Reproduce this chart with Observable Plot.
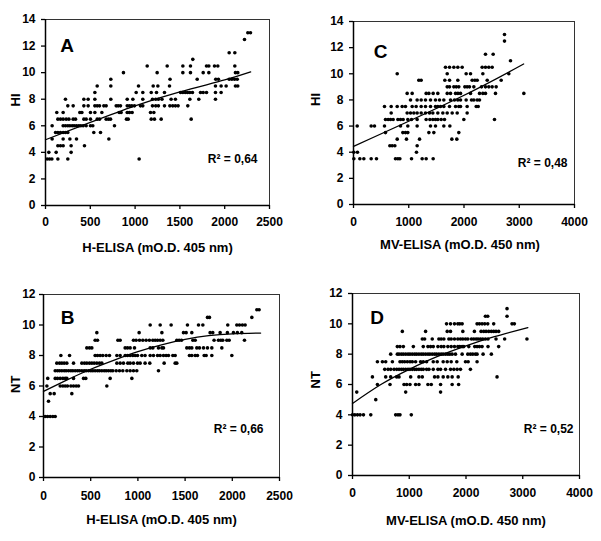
<!DOCTYPE html>
<html><head><meta charset="utf-8">
<script src="https://cdn.jsdelivr.net/npm/d3@7"></script>
<script src="https://cdn.jsdelivr.net/npm/@observablehq/plot@0.6"></script>
<style>
body{margin:0;background:#fff}
#fig{position:relative;width:601px;height:541px;font-family:'Liberation Sans',Arial,sans-serif}
#fig svg{position:absolute}
</style></head><body><div id="fig"></div>
<script>
// ---- Panel A: HI vs H-ELISA ----  rows: [HI value, H-ELISA values]
const rowsA = [
  [13, [2258, 2288]],
  [12.5, [2221]],
  [11.5, [2050, 2113]],
  [11, [1644]],
  [10.5, [1135, 1358, 1533, 1618, 1797, 1823, 1886, 1923, 2113]],
  [10, [870, 1246, 1533, 1618, 1760, 1823, 2120, 2146]],
  [9.5, [729, 1390, 1693, 1900, 1930, 2050, 2080, 2110, 2140]],
  [9, [577, 729, 1038, 1202, 1254, 1384, 1897, 1960, 2016, 2120, 2146]],
  [8.5, [551, 1012, 1086, 1180, 1239, 1328, 1507, 1533, 1560, 1585, 1610, 1640, 1730, 1760, 1797, 1897, 1960]],
  [8, [223, 428, 476, 551, 729, 912, 975, 1086, 1194, 1230, 1260, 1300, 1402, 1450, 1611, 1711, 1897]],
  [7.5, [249, 309, 428, 476, 551, 577, 603, 651, 677, 789, 811, 837, 912, 937, 963, 993, 1060, 1086, 1194, 1230, 1260, 1328, 1388, 1420, 1450, 1480, 1588]],
  [7, [126, 197, 383, 406, 502, 551, 629, 822, 844, 912, 937, 967, 1172, 1209]],
  [6.5, [138, 167, 197, 231, 261, 309, 335, 428, 454, 502, 577, 603, 677, 703, 726, 904, 923, 1180, 1216, 1291, 1626]],
  [6, [74, 197, 223, 249, 272, 298, 320, 346, 372, 394, 420, 454, 502, 528, 770]],
  [5.5, [112, 138, 167, 197, 223, 249, 539, 614]],
  [5, [74, 197, 272, 346, 707]],
  [4.5, [138, 167, 197, 286, 435]],
  [4, [37, 119, 286]],
  [3.5, [19, 45, 71, 138, 249, 1045]]
];
const fitAx = [0, 500, 1000, 1500, 2000, 2290];
const fitAy = [4.95, 6.25, 7.5, 8.55, 9.45, 10.05];

// ---- Panel C: HI vs MV-ELISA ----
const rowsC = [
  [13, [2733]],
  [12.5, [2733]],
  [11.5, [2389, 2528]],
  [11, [2842]],
  [10.5, [1665, 1738, 1816, 1888, 1967, 2329, 2389, 2449, 2510]],
  [10, [791, 1696, 2039, 2118, 2341, 2811]],
  [9.5, [1182, 1225, 1653, 1738, 1888, 2148, 2197, 2239, 2420, 2673]],
  [9, [1696, 1738, 1816, 1860, 1906, 2015, 2057, 2099, 2178, 2317, 2389, 2449, 2510, 2582]],
  [8.5, [971, 1062, 1315, 1364, 1442, 1526, 1696, 1756, 1847, 1890, 1937, 2118, 2281, 2341, 2389, 2570, 3083]],
  [8, [1032, 1152, 1225, 1303, 1394, 1484, 1557, 1635, 1756, 1828, 1888, 1937, 2039, 2136, 2178, 2239, 2281]],
  [7.5, [561, 682, 791, 881, 941, 1062, 1134, 1225, 1303, 1394, 1484, 1526, 1575, 1635, 1738, 1847, 1906, 1937, 2057, 2221, 2257]],
  [7, [682, 971, 1032, 1092, 1152, 1225, 1303, 1376, 1436, 1526, 1617, 1696, 1786, 1877, 2057]],
  [6.5, [579, 627, 670, 718, 803, 851, 899, 983, 1050, 1152, 1315, 1382, 1436, 1484, 1526, 1587, 1647, 1997, 2552]],
  [6, [67, 320, 380, 561, 851, 983, 1152, 1394, 1484, 1635, 1744]],
  [5.5, [579, 893, 941, 983, 1364, 1454, 1906]],
  [5, [791, 959, 1195, 1780, 1870]],
  [4.5, [658, 700, 748, 1152]],
  [4, [6, 72, 1140]],
  [3.5, [6, 115, 187, 320, 416, 760, 803, 839, 1050, 1243, 1315, 1442]]
];
const fitCx = [0, 1900, 3080];
const fitCy = [4.45, 8.15, 10.75];

// ---- Panel B: NT vs H-ELISA ----
const rowsB = [
  [11, [2260, 2284]],
  [10.5, [1737, 1758, 2207]],
  [10, [1130, 1236, 1352, 1525, 1642, 1688, 1952, 2048, 2076, 2107, 2136]],
  [9.5, [565, 1013, 1254, 1483, 1511, 1571, 1765, 1793, 1871, 1948, 2012, 2054, 2100]],
  [9, [547, 572, 788, 812, 953, 981, 1017, 1052, 1087, 1122, 1158, 1183, 1208, 1236, 1264, 1412, 1437, 1462, 1582, 1607, 1807, 1853, 1878, 1899, 1942, 1967, 2129]],
  [8.5, [459, 487, 512, 865, 890, 918, 964, 1130, 1158, 1218, 1254, 1271, 1518, 1546, 1571, 1624, 1652, 1695, 1737, 1783, 1889]],
  [8, [184, 276, 547, 572, 600, 628, 664, 699, 777, 812, 865, 890, 918, 946, 971, 996, 1041, 1076, 1130, 1165, 1208, 1236, 1271, 1299, 1324, 1370, 1395, 1546, 1571, 1607, 1631, 1702, 1723, 1783, 1995]],
  [7.5, [141, 170, 194, 219, 247, 318, 406, 434, 459, 487, 512, 537, 565, 593, 618, 777, 812, 847, 893, 918, 953, 996, 1024, 1076, 1126, 1278, 1395, 1412]],
  [7, [124, 148, 170, 194, 219, 240, 265, 290, 311, 336, 360, 381, 406, 431, 452, 477, 502, 523, 547, 572, 593, 618, 643, 664, 688, 713, 734, 770, 805, 840, 883, 918, 953, 988, 1218]],
  [6.5, [45, 124, 148, 177, 205, 230, 247, 318, 424, 448, 706, 936]],
  [6, [36, 177, 205, 230, 254, 290, 318, 346, 371, 671]],
  [5.5, [71, 113, 300]],
  [5, [53]],
  [4, [18, 43, 71, 99, 124]]
];
const fitBx = [0, 250, 500, 750, 1000, 1250, 1500, 1750, 2000, 2300];
const fitBy = [5.65, 6.4, 7.1, 7.7, 8.25, 8.7, 9.05, 9.3, 9.42, 9.47];

// ---- Panel D: NT vs MV-ELISA ----
const rowsD = [
  [11, [2723]],
  [10.5, [2342, 2383, 2723]],
  [10, [1657, 1727, 1797, 1856, 1890, 1932, 2195, 2236, 2283, 2330, 2383, 2488, 2811, 2852]],
  [9.5, [878, 1288, 1669, 1727, 1944, 2148, 2265, 2312, 2353, 2400, 2447, 2488, 2529, 2576]],
  [9, [1230, 1271, 1405, 1522, 1563, 1610, 1698, 1739, 1797, 1856, 1903, 1944, 1991, 2032, 2096, 2137, 2178, 2213, 2254, 2295, 2342, 2388, 2529, 2681, 3074]],
  [8.5, [790, 837, 896, 1072, 1247, 1329, 1376, 1423, 1505, 1563, 1610, 1680, 1739, 1797, 1856, 1890, 1932, 1961, 2049, 2154, 2195, 2236, 2283, 2388, 2576]],
  [8, [673, 790, 820, 861, 896, 937, 978, 1013, 1054, 1095, 1130, 1171, 1212, 1247, 1288, 1329, 1364, 1405, 1446, 1481, 1522, 1563, 1598, 1639, 1680, 1715, 1756, 1815, 1932, 2032, 2078, 2119, 2166, 2195, 2301, 2447]],
  [7.5, [439, 527, 585, 703, 837, 878, 919, 966, 1013, 1054, 1112, 1200, 1247, 1306, 1423, 1493, 1598, 1669, 1739, 1838, 1991, 2038, 2195]],
  [7, [568, 626, 673, 732, 779, 820, 861, 896, 937, 978, 1013, 1054, 1095, 1130, 1171, 1212, 1247, 1306, 1347, 1423, 1505, 1552, 1639, 1727, 1786, 1844, 1903, 2078]],
  [6.5, [351, 585, 673, 779, 820, 1025, 1171, 1230, 1446, 1505, 1598, 1680, 1756, 1862, 2547]],
  [6, [439, 661, 908, 955, 1013, 1112, 1171, 1329, 1388, 1552, 1756, 1870]],
  [5.5, [75, 937, 1552]],
  [5, [410]],
  [4, [0, 41, 88, 134, 193, 322, 761, 802, 837, 1036]]
];
const fitDx = [0, 500, 1000, 1500, 2000, 2500, 3090];
const fitDy = [4.75, 6.0, 7.0, 7.85, 8.55, 9.15, 9.75];

// ---- tick labels & texts ----
const ticksH = [0, 500, 1000, 1500, 2000, 2500];
const ticksMV = [0, 1000, 2000, 3000, 4000];
const ticksHI = [0, 2, 4, 6, 8, 10, 12, 14];
const ticksNT = [0, 2, 4, 6, 8, 10, 12];
const labelH = "H-ELISA (mO.D. 405 nm)";
const labelMV = "MV-ELISA (mO.D. 450 nm)";
const letters = ["A", "B", "C", "D"];
const r2Texts = ["R² = 0,64", "R² = 0,66", "R² = 0,48", "R² = 0,52"];

const FONT = "'Liberation Sans', Arial, Helvetica, sans-serif";
const fig = document.getElementById("fig");

function panel(cfg) {
  const pts = cfg.rows.flatMap(([y, xs]) => xs.map(x => ({x, y})));
  const fit = cfg.fitX.map((x, i) => ({x, y: cfg.fitY[i]}));
  const xMax = d3.max(cfg.xTicks), yMax = d3.max(cfg.yTicks);
  const svg = Plot.plot({
    width: cfg.w, height: cfg.h,
    marginLeft: cfg.m[0], marginRight: cfg.m[1], marginTop: cfg.m[2], marginBottom: cfg.m[3],
    x: {domain: [0, xMax]},
    y: {domain: [0, yMax]},
    style: {fontFamily: FONT, fontWeight: "bold", fontSize: "12px", background: "white", overflow: "visible", color: "black"},
    marks: [
      Plot.ruleY([yMax], {stroke: "#333", strokeWidth: 1}),
      Plot.ruleX([xMax], {stroke: "#333", strokeWidth: 1}),
      Plot.axisX({ticks: cfg.xTicks, tickSize: 4, tickPadding: cfg.xPad, tickFormat: d3.format("d"), label: null, strokeWidth: 1.3}),
      Plot.axisY({ticks: cfg.yTicks, tickSize: 4, tickPadding: cfg.yPad, tickFormat: d3.format("d"), label: null, strokeWidth: 1.3}),
      Plot.ruleX([0], {strokeWidth: 1.5}),
      Plot.ruleY([0], {strokeWidth: 1.5}),
      Plot.line(fit, {x: "x", y: "y", curve: "natural", strokeWidth: 1.3}),
      Plot.dot(pts, {x: "x", y: "y", r: 1.8, fill: "black"}),
      Plot.text([cfg.letter], {text: d => d, frameAnchor: "top-left", dx: cfg.letterPos[0], dy: cfg.letterPos[1], fontSize: 19, fontWeight: "bold", textAnchor: "middle"}),
      Plot.text([cfg.r2], {text: d => d, frameAnchor: "bottom-right", dx: cfg.r2Pos[0], dy: cfg.r2Pos[1], fontSize: 12, fontWeight: "bold", textAnchor: "end"}),
      Plot.text([cfg.xLabel], {text: d => d, frameAnchor: "bottom", dx: cfg.xLabPos[0], dy: cfg.xLabPos[1], fontSize: 13, fontWeight: "bold"}),
      Plot.text([cfg.yLabel], {text: d => d, frameAnchor: "left", dx: cfg.yLabPos[0], dy: cfg.yLabPos[1], rotate: -90, fontSize: 13, fontWeight: "bold"})
    ]
  });
  svg.style.left = cfg.left + "px";
  svg.style.top = cfg.top + "px";
  fig.appendChild(svg);
}

panel({rows: rowsA, fitX: fitAx, fitY: fitAy, xTicks: ticksH, yTicks: ticksHI,
  letter: letters[0], r2: r2Texts[0], xLabel: labelH, yLabel: "HI",
  left: 0, top: 0, w: 300, h: 270, m: [45, 31, 19, 65], xPad: 8, yPad: 6,
  letterPos: [21.5, 18.5], r2Pos: [-12, -43], xLabPos: [0, 46], yLabPos: [-30, -6]});
panel({rows: rowsC, fitX: fitCx, fitY: fitCy, xTicks: ticksMV, yTicks: ticksHI,
  letter: letters[2], r2: r2Texts[2], xLabel: labelMV, yLabel: "HI",
  left: 300, top: 0, w: 301, h: 270, m: [53, 27, 21, 66], xPad: 9, yPad: 6,
  letterPos: [27, 23], r2Pos: [-7, -38], xLabPos: [-4, 44], yLabPos: [-38, -7]});
panel({rows: rowsB, fitX: fitBx, fitY: fitBy, xTicks: ticksH, yTicks: ticksNT,
  letter: letters[1], r2: r2Texts[1], xLabel: labelH, yLabel: "NT",
  left: 0, top: 270, w: 300, h: 271, m: [43, 21, 24, 64], xPad: 10, yPad: 4,
  letterPos: [24, 16], r2Pos: [-16, -45], xLabPos: [0, 46], yLabPos: [-28, 7]});
panel({rows: rowsD, fitX: fitDx, fitY: fitDy, xTicks: ticksMV, yTicks: ticksNT,
  letter: letters[3], r2: r2Texts[3], xLabel: labelMV, yLabel: "NT",
  left: 300, top: 270, w: 301, h: 271, m: [52, 22, 23, 66], xPad: 9, yPad: 6,
  letterPos: [24.5, 17], r2Pos: [-6, -43], xLabPos: [0, 49], yLabPos: [-37, 4]});
</script></body></html>
